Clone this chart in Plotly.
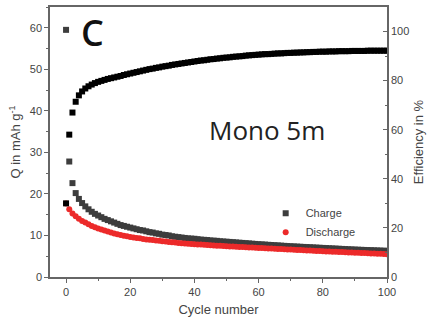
import plotly.graph_objects as go

cycles = list(range(0, 101))

charge = [59.5, 27.8, 22.6, 20.2, 18.8, 17.8, 17.0, 16.3, 15.7, 15.2,
          14.8, 14.4, 14.0, 13.7, 13.4, 13.1, 12.8, 12.5, 12.3, 12.1,
          11.9, 11.7, 11.5, 11.3, 11.2, 11.0, 10.8, 10.7, 10.5, 10.4,
          10.2, 10.1, 10.0, 9.8, 9.7, 9.6, 9.5, 9.4, 9.3, 9.25,
          9.2, 9.1, 9.0, 8.95, 8.9, 8.8, 8.75, 8.7, 8.6, 8.55,
          8.5, 8.44, 8.38, 8.32, 8.26, 8.2, 8.14, 8.08, 8.02, 7.96,
          7.9, 7.85, 7.8, 7.75, 7.7, 7.65, 7.6, 7.55, 7.5, 7.45,
          7.4, 7.36, 7.32, 7.28, 7.24, 7.2, 7.16, 7.12, 7.08, 7.04,
          7.0, 6.96, 6.92, 6.88, 6.84, 6.8, 6.76, 6.72, 6.68, 6.64,
          6.6, 6.57, 6.54, 6.51, 6.48, 6.45, 6.42, 6.39, 6.36, 6.33,
          6.3]

discharge = [17.7, 16.3, 15.3, 14.6, 14.0, 13.5, 13.1, 12.7, 12.3, 12.0,
             11.7, 11.45, 11.2, 10.95, 10.7, 10.5, 10.3, 10.1, 9.95, 9.8,
             9.6, 9.5, 9.4, 9.3, 9.15, 9.0, 8.95, 8.9, 8.8, 8.7,
             8.6, 8.52, 8.44, 8.36, 8.28, 8.2, 8.1, 8.05, 8.0, 7.95,
             7.9, 7.85, 7.8, 7.75, 7.7, 7.65, 7.6, 7.55, 7.5, 7.45,
             7.4, 7.36, 7.32, 7.28, 7.24, 7.2, 7.16, 7.12, 7.08, 7.04,
             7.0, 6.96, 6.92, 6.88, 6.84, 6.8, 6.76, 6.72, 6.68, 6.64,
             6.6, 6.56, 6.52, 6.48, 6.44, 6.4, 6.36, 6.32, 6.28, 6.24,
             6.2, 6.16, 6.13, 6.09, 6.06, 6.02, 5.99, 5.95, 5.92, 5.88,
             5.85, 5.82, 5.78, 5.75, 5.71, 5.68, 5.64, 5.61, 5.57, 5.54,
             5.5]

efficiency = [30.0, 58.0, 67.0, 71.4, 74.0, 75.6, 76.8, 77.7, 78.4, 79.0,
              79.5, 79.9, 80.3, 80.7, 81.0, 81.3, 81.6, 81.9, 82.3, 82.6,
              82.9, 83.2, 83.5, 83.8, 84.1, 84.4, 84.7, 84.9, 85.2, 85.4,
              85.7, 85.9, 86.1, 86.4, 86.6, 86.8, 87.0, 87.2, 87.4, 87.6,
              87.8, 88.0, 88.2, 88.3, 88.5, 88.7, 88.8, 89.0, 89.1, 89.3,
              89.4, 89.5, 89.7, 89.8, 89.9, 90.0, 90.2, 90.3, 90.4, 90.5,
              90.6, 90.7, 90.8, 90.8, 90.9, 91.0, 91.1, 91.1, 91.2, 91.3,
              91.3, 91.4, 91.4, 91.5, 91.5, 91.6, 91.6, 91.7, 91.7, 91.8,
              91.8, 91.8, 91.9, 91.9, 91.9, 92.0, 92.0, 92.0, 92.0, 92.1,
              92.1, 92.1, 92.1, 92.1, 92.2, 92.2, 92.2, 92.2, 92.2, 92.2,
              92.2]

x_ticks = [0, 20, 40, 60, 80, 100]
y_ticks = [0, 10, 20, 30, 40, 50, 60]
y2_ticks = [0, 20, 40, 60, 80, 100]

axis_color = "#666666"
text_color = "#444444"
font_family = "Liberation Sans, Arial, sans-serif"

fig = go.Figure()
fig.add_trace(go.Scatter(
    x=cycles, y=charge, mode="markers", name="Charge",
    marker=dict(symbol="square", size=6, color="#3d3d3d"),
))
fig.add_trace(go.Scatter(
    x=cycles, y=discharge, mode="markers", name="Discharge",
    marker=dict(symbol="circle", size=6, color="#ec2a2a"),
))
fig.add_trace(go.Scatter(
    x=cycles, y=efficiency, mode="markers", name="Efficiency",
    yaxis="y2", showlegend=False,
    marker=dict(symbol="square", size=6, color="#000000"),
))

fig.update_layout(
    template="none",
    width=432, height=327,
    margin=dict(l=50, r=45, t=7, b=50),
    paper_bgcolor="white", plot_bgcolor="white",
    font=dict(family=font_family, size=11, color=text_color),
    showlegend=True,
    legend=dict(x=0.64, y=0.29, xanchor="left", yanchor="top",
                bgcolor="rgba(0,0,0,0)", font=dict(size=11, color=text_color),
                tracegroupgap=0, itemwidth=30),
    xaxis=dict(
        range=[-5, 100], tickvals=x_ticks, ticks="outside", ticklen=4,
        tickcolor=axis_color, showline=True, linecolor=axis_color, linewidth=1.5,
        mirror=True, showgrid=False, zeroline=False, color=text_color,
        minor=dict(dtick=10, ticks="outside", ticklen=2, tickcolor=axis_color, showgrid=False),
        title=dict(text="Cycle number", font=dict(size=13, color=text_color), standoff=8),
        tickfont=dict(size=11, color=text_color),
    ),
    yaxis=dict(
        range=[0, 65], tickvals=y_ticks, ticks="outside", ticklen=4,
        tickcolor=axis_color, showline=True, linecolor=axis_color, linewidth=1.5,
        showgrid=False, zeroline=False, color=text_color,
        minor=dict(dtick=5, ticks="outside", ticklen=2, tickcolor=axis_color, showgrid=False),
        title=dict(text="Q in mAh g<sup>-1</sup>", font=dict(size=13, color=text_color), standoff=6),
        tickfont=dict(size=11, color=text_color),
    ),
    yaxis2=dict(
        range=[0, 110], tickvals=y2_ticks, overlaying="y", side="right",
        ticks="inside", ticklen=4, tickcolor=axis_color, color=text_color,
        showline=True, linecolor=axis_color, linewidth=1.5,
        showgrid=False, zeroline=False,
        minor=dict(dtick=10, ticks="inside", ticklen=2, tickcolor=axis_color, showgrid=False),
        title=dict(text="Efficiency in %", font=dict(size=13, color=text_color), standoff=6),
        tickfont=dict(size=11, color=text_color),
    ),
    annotations=[
        dict(text="C", x=0.085, y=0.905, xref="paper", yref="paper",
             xanchor="left", yanchor="middle", showarrow=False,
             font=dict(family="Open Sans, sans-serif", size=36, color="#111111", weight=600)),
        dict(text="Mono 5m", x=0.645, y=0.545, xref="paper", yref="paper",
             xanchor="center", yanchor="middle", showarrow=False,
             font=dict(family="Open Sans, sans-serif", size=26, color="#222222")),
    ],
)

fig.write_html("out.html")
